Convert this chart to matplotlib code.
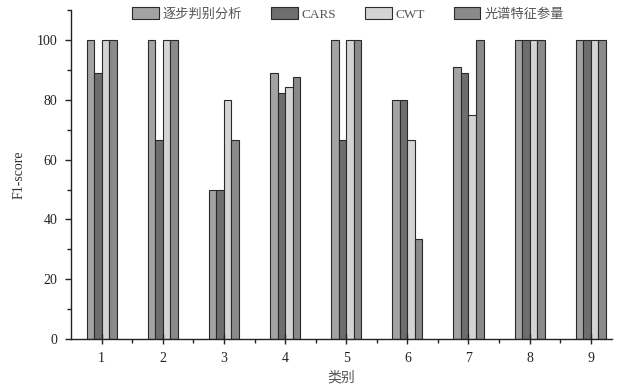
import matplotlib
matplotlib.use("Agg")
import matplotlib.pyplot as plt
from matplotlib.ticker import MultipleLocator, FixedLocator
import numpy as np

plt.rcParams['font.family'] = ['Liberation Serif', 'Noto Sans CJK SC']

categories = ['1', '2', '3', '4', '5', '6', '7', '8', '9']
series_names = ['逐步判别分析', 'CARS', 'CWT', '光谱特征参量']
stepwise = [100, 100, 50, 88.9, 100, 80, 90.9, 100, 100]
cars = [88.9, 66.7, 50, 82.4, 66.7, 80, 88.9, 100, 100]
cwt = [100, 100, 80, 84.2, 100, 66.7, 75, 100, 100]
spectral = [100, 100, 66.7, 87.5, 100, 33.3, 100, 100, 100]

colors = ['#a3a3a3', '#6e6e6e', '#d4d4d4', '#8a8a8a']

fig = plt.figure(figsize=(6.24, 3.91), dpi=100)
ax = fig.add_axes([0.114, 0.133, 0.867, 0.841])

x = np.arange(1, len(categories) + 1)
w = 0.123
for i, (vals, name) in enumerate(zip([stepwise, cars, cwt, spectral], series_names)):
    ax.bar(x + (i - 1.5) * w, vals, width=w, color=colors[i],
           edgecolor='#2a2a2a', linewidth=0.8, label=name)

ax.set_xlim(0.5, 9.35)
ax.set_ylim(0, 110)
ax.set_xticks(x)
ax.set_xticklabels(categories)
ax.xaxis.set_minor_locator(FixedLocator(np.arange(1.5, 9.6, 1)))
ax.set_yticks(np.arange(0, 101, 20))
ax.yaxis.set_minor_locator(MultipleLocator(10))

for s in ['top', 'right']:
    ax.spines[s].set_visible(False)
for s in ['left', 'bottom']:
    ax.spines[s].set_color('#222222')
    ax.spines[s].set_linewidth(1.0)

ax.tick_params(axis='both', which='major', direction='out', length=4,
               width=1, colors='#222222', labelsize=10, pad=6)
ax.tick_params(axis='both', which='minor', direction='out', length=3,
               width=1, colors='#222222')
ax.tick_params(axis='x', which='major', direction='inout', length=7, pad=6)

ax.set_ylabel('F1-score', fontsize=10, color='#333333', labelpad=8)
ax.set_xlabel('类别', fontsize=10, color='#555555', labelpad=4)

leg = ax.legend(loc='upper center', bbox_to_anchor=(0.512, 1.045), ncol=4,
                frameon=False, fontsize=9.5, handlelength=2.0, handleheight=1.0,
                columnspacing=2.2, handletextpad=0.3)
for t in leg.get_texts():
    t.set_color('#555555')

fig.savefig('out.png', dpi=100)
